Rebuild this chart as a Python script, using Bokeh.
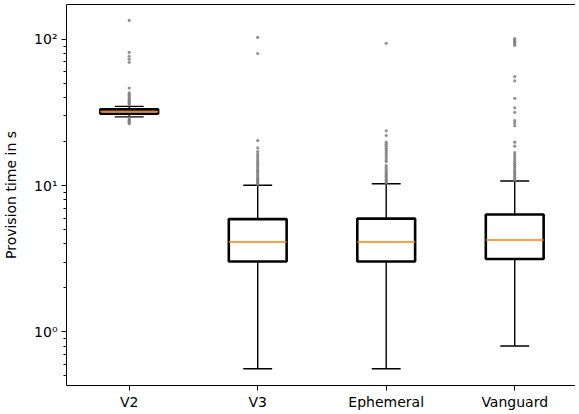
from bokeh.plotting import figure
from bokeh.models import Range1d, FixedTicker, LinearAxis, ColumnDataSource
from bokeh.embed import file_html
from bokeh.resources import INLINE

# ---- data ----
categories = ["V2", "V3", "Ephemeral", "Vanguard"]
whisker_low = [29.5, 0.56, 0.56, 0.80]
q1 = [31.0, 3.03, 3.03, 3.15]
median = [32.0, 4.11, 4.11, 4.25]
q3 = [33.2, 5.90, 5.95, 6.35]
whisker_high = [34.8, 10.05, 10.3, 10.76]

outliers_v2 = [134.7, 81.3, 76.6, 73.1, 69.6, 46.4, 43.0, 42.0, 41.0, 40.0,
               39.2, 38.4, 37.6, 36.9, 36.2, 35.6, 29.0, 28.5, 28.0, 27.5,
               27.0, 26.5]
outliers_v3 = [103.0, 80.0, 20.3, 18.1, 17.1, 16.5, 16.0, 15.5, 15.0, 14.6,
               14.2, 13.8, 13.4, 13.0, 12.7, 12.4, 12.1, 11.8, 11.5, 11.2,
               11.0, 10.8, 10.6, 10.4, 10.2]
outliers_eph = [94.0, 23.7, 22.0, 19.8, 19.2, 18.6, 18.0, 17.5, 17.0, 16.5,
                16.0, 15.5, 15.0, 14.6, 13.7, 13.3, 12.9, 12.5, 12.2, 11.9,
                11.6, 11.3, 11.0, 10.8, 10.6, 10.4]
outliers_van = [101.0, 99.0, 97.0, 95.0, 93.0, 91.0, 55.7, 52.0, 39.5, 34.0,
                31.7, 27.8, 26.8, 25.7, 19.8, 18.6, 16.8, 16.2, 15.7, 15.2,
                14.7, 14.2, 13.8, 13.4, 13.0, 12.6, 12.3, 12.0, 11.7, 11.4,
                11.1, 10.9]
outliers = [outliers_v2, outliers_v3, outliers_eph, outliers_van]

y_label = "Provision time in s"
y_tick_labels = {1: "10\u2070", 10: "10\u00b9", 100: "10\u00b2"}

# ---- derived structures ----
pos = [i + 1 for i in range(len(categories))]
box_w = 0.45
cap_w = box_w / 2

src = ColumnDataSource(dict(
    x=pos, lo=whisker_low, q1=q1, med=median, q3=q3, hi=whisker_high,
    bl=[x - box_w / 2 for x in pos], br=[x + box_w / 2 for x in pos],
    cl=[x - cap_w / 2 for x in pos], cr=[x + cap_w / 2 for x in pos],
))
fx, fy = [], []
for x, vals in zip(pos, outliers):
    fx += [x] * len(vals)
    fy += vals

FONT = "DejaVu Sans"

p = figure(width=575, height=412, y_axis_type="log",
           x_range=Range1d(0.512, 4.473), y_range=Range1d(0.43, 173),
           output_backend="svg", toolbar_location=None,
           min_border_left=64, min_border_right=0, min_border_top=4,
           min_border_bottom=0)
p.outline_line_color = None
p.xgrid.visible = False
p.ygrid.visible = False
p.background_fill_color = "white"
p.border_fill_color = "white"

# whiskers
p.segment(x0="x", y0="q3", x1="x", y1="hi", source=src, line_color="black", line_width=1.4)
p.segment(x0="x", y0="lo", x1="x", y1="q1", source=src, line_color="black", line_width=1.4)
# caps
p.segment(x0="cl", y0="hi", x1="cr", y1="hi", source=src, line_color="black", line_width=1.4)
p.segment(x0="cl", y0="lo", x1="cr", y1="lo", source=src, line_color="black", line_width=1.4)
# boxes
p.quad(left="bl", right="br", bottom="q1", top="q3", source=src,
       fill_color=None, line_color="black", line_width=2.6)
# medians
p.segment(x0="bl", y0="med", x1="br", y1="med", source=src, line_color="#ff7f0e", line_width=1.5)
# fliers
p.scatter(fx, fy, size=3.2, marker="circle", fill_color="#7f7f7f", line_color=None, fill_alpha=0.85)

# axes
xa = p.xaxis[0]
xa.ticker = FixedTicker(ticks=pos)
xa.major_label_overrides = {x: c for x, c in zip(pos, categories)}
xa.minor_tick_line_color = None
xa.major_tick_out = 5
xa.major_tick_in = 0
xa.major_label_standoff = 3
xa.major_label_text_font = FONT
xa.major_label_text_font_size = "14px"
xa.major_label_text_color = "black"
xa.axis_line_color = "black"
xa.major_tick_line_color = "black"

minor = [m * 10 ** k for k in range(-1, 3) for m in range(2, 10)]
ya = p.yaxis[0]
ya.ticker = FixedTicker(ticks=[1, 10, 100], minor_ticks=minor)
ya.major_label_overrides = y_tick_labels
ya.major_tick_out = 5
ya.major_tick_in = 0
ya.minor_tick_out = 3
ya.minor_tick_in = 0
ya.major_label_standoff = 4
ya.major_label_text_font = FONT
ya.major_label_text_font_size = "14px"
ya.major_label_text_color = "black"
ya.axis_line_color = "black"
ya.major_tick_line_color = "black"
ya.minor_tick_line_color = "black"
ya.axis_label = y_label
ya.axis_label_text_font = FONT
ya.axis_label_text_font_size = "14px"
ya.axis_label_text_font_style = "normal"
ya.axis_label_text_color = "black"
ya.axis_label_standoff = 12

top = LinearAxis(ticker=FixedTicker(ticks=[]), major_tick_line_color=None,
                 minor_tick_line_color=None, axis_line_color="black",
                 major_label_text_font_size="0px")
p.add_layout(top, "above")

open("out.html", "w").write(file_html(p, INLINE))
